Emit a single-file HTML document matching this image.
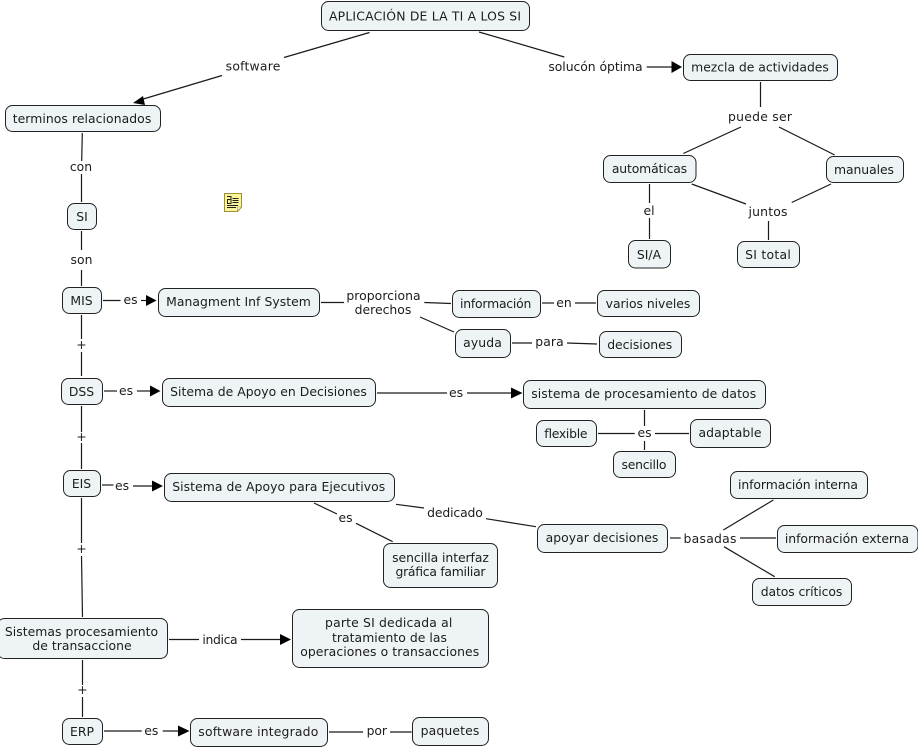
<!DOCTYPE html>
<html><head><meta charset="utf-8"><style>
html,body{margin:0;padding:0;background:#fff;width:918px;height:749px;overflow:hidden}
svg{display:block}
text{font-family:"DejaVu Sans",sans-serif;font-size:12.4px;fill:#1c1c1c;text-anchor:middle}
rect{fill:#eef4f6;stroke:#222;stroke-width:1}
line{stroke:#1a1a1a;stroke-width:1.2}
polygon.a{fill:#000}
</style></head><body>
<svg width="918" height="749" viewBox="0 0 918 749" xmlns="http://www.w3.org/2000/svg">
<!-- connectors -->
<line x1="369.5" y1="32.5" x2="284" y2="57.5"/><line x1="222" y1="75.5" x2="140" y2="100"/>
<polygon class="a" points="133,103 143,96 145,105"/>
<line x1="82.3" y1="133" x2="81.7" y2="161"/><line x1="81.5" y1="174" x2="81.5" y2="202"/>
<line x1="81.5" y1="231" x2="81.5" y2="250"/><line x1="81.5" y1="270" x2="81.5" y2="286"/>
<line x1="479" y1="32" x2="564.3" y2="57"/><line x1="646.7" y1="67" x2="672" y2="67"/>
<polygon class="a" points="682,67 671.5,61 671.5,73"/>
<line x1="760.5" y1="82" x2="760.5" y2="107"/>
<line x1="741" y1="127" x2="683.3" y2="153.5"/><line x1="779" y1="127" x2="834.7" y2="155"/>
<line x1="649.5" y1="184" x2="649.5" y2="203"/><line x1="649.5" y1="218" x2="649.5" y2="239"/>
<line x1="691.7" y1="184" x2="746" y2="204"/><line x1="831" y1="184" x2="791.7" y2="202.5"/>
<line x1="768.5" y1="221" x2="768.5" y2="240"/>
<line x1="103" y1="300.5" x2="120.500" y2="300.5"/><line x1="141" y1="300.5" x2="147" y2="300.5"/>
<polygon class="a" points="156.5,300.5 146,295 146,306"/>
<line x1="81.5" y1="315" x2="81.5" y2="339"/><line x1="81.5" y1="352" x2="81.5" y2="376"/>
<line x1="104" y1="391" x2="117" y2="391"/><line x1="137" y1="391" x2="151" y2="391"/>
<polygon class="a" points="160.5,391 150,385.5 150,396.5"/>
<line x1="81.5" y1="406" x2="81.5" y2="432"/><line x1="81.5" y1="443" x2="81.5" y2="469"/>
<line x1="102" y1="485" x2="113.500" y2="485"/><line x1="133" y1="486" x2="153" y2="486"/>
<polygon class="a" points="163,486 152,480.5 152,491.5"/>
<line x1="321" y1="302.5" x2="344" y2="302.5"/><line x1="424.3" y1="302.5" x2="451" y2="303.5"/>
<line x1="420" y1="317" x2="454" y2="332"/>
<line x1="377" y1="393" x2="447" y2="393"/><line x1="467" y1="393" x2="512" y2="393"/>
<polygon class="a" points="522.5,393 511,387.5 511,398.5"/>
<line x1="542" y1="303" x2="554" y2="303"/><line x1="575" y1="303" x2="596" y2="303"/>
<line x1="512" y1="343" x2="532" y2="343"/><line x1="567" y1="343" x2="597" y2="344"/>
<line x1="644.5" y1="410" x2="644.5" y2="426"/><line x1="644.5" y1="441" x2="644.5" y2="450"/>
<line x1="598" y1="433.5" x2="634.7" y2="433.5"/><line x1="655" y1="433.5" x2="689" y2="433.5"/>
<line x1="314" y1="503" x2="337" y2="514"/><line x1="356" y1="523.3" x2="392.7" y2="541.7"/>
<line x1="396" y1="504.3" x2="424" y2="508"/><line x1="486" y1="518.7" x2="536" y2="526.7"/>
<line x1="670" y1="538" x2="680.7" y2="538"/><line x1="723.3" y1="530" x2="773.3" y2="500"/>
<line x1="740" y1="538" x2="776" y2="538"/><line x1="724" y1="546.7" x2="774.7" y2="576.7"/>
<line x1="81.5" y1="498" x2="81.5" y2="543"/><line x1="81.5" y1="556" x2="82.5" y2="617"/>
<line x1="169" y1="639.5" x2="199" y2="639.5"/><line x1="241" y1="639.5" x2="281" y2="639.5"/>
<polygon class="a" points="291,639.5 280,634 280,645"/>
<line x1="82.5" y1="660" x2="82.5" y2="685"/><line x1="82.5" y1="697" x2="82.5" y2="717"/>
<line x1="104" y1="731" x2="141.7" y2="731"/><line x1="162.7" y1="731" x2="179" y2="731"/>
<polygon class="a" points="189.5,731 178,725.5 178,736.5"/>
<line x1="329" y1="732" x2="363" y2="732"/><line x1="390" y1="732" x2="411.7" y2="732"/>
<!-- nodes -->
<rect x="321.5" y="1.5" width="208" height="29" rx="7"/><text x="425" y="20.5" textLength="192">APLICACIÓN DE LA TI A LOS SI</text>
<rect x="5.5" y="105.5" width="155" height="26" rx="7"/><text x="82" y="123" textLength="138.6">terminos relacionados</text>
<rect x="67.500" y="203.5" width="29" height="26" rx="7"/><text x="82" y="221">SI</text>
<rect x="683.5" y="54.5" width="154" height="26" rx="7"/><text x="760" y="71.5" textLength="137.7">mezcla de actividades</text>
<rect x="603.5" y="155.5" width="92.5" height="27" rx="7"/><text x="649.5" y="173" textLength="75.3">automáticas</text>
<rect x="826.5" y="156.5" width="77" height="26" rx="7"/><text x="864" y="174" textLength="60">manuales</text>
<rect x="628.5" y="240.5" width="42" height="27.5" rx="7"/><text x="649" y="259">SI/A</text>
<rect x="737.5" y="241.5" width="62" height="26" rx="7"/><text x="768" y="259" textLength="45.700">SI total</text>
<rect x="62.5" y="287.5" width="39" height="26" rx="7"/><text x="81.500" y="305">MIS</text>
<rect x="158.5" y="288.5" width="161" height="28" rx="7"/><text x="238.5" y="306" textLength="144.7">Managment Inf System</text>
<rect x="61.5" y="378.5" width="41" height="26" rx="7"/><text x="81.500" y="396">DSS</text>
<rect x="162.5" y="378.5" width="213" height="28" rx="7"/><text x="268.5" y="396" textLength="196.7">Sitema de Apoyo en Decisiones</text>
<rect x="63.5" y="470.5" width="37" height="26" rx="7"/><text x="81.500" y="488">EIS</text>
<rect x="164.5" y="473.5" width="230" height="28" rx="7"/><text x="278.7" y="491" textLength="213">Sistema de Apoyo para Ejecutivos</text>
<rect x="383.5" y="543.5" width="114" height="44" rx="7"/><text x="440.5" y="562" textLength="96.7">sencilla interfaz</text><text x="440.5" y="576" textLength="90">gráfica familiar</text>
<rect x="-2.5" y="618.5" width="170" height="40" rx="7"/><text x="81.500" y="636" textLength="153.3">Sistemas procesamiento</text><text x="82" y="650" textLength="99.3">de transaccione</text>
<rect x="292.5" y="609.5" width="196" height="58" rx="7"/><text x="388.7" y="627" textLength="127.3">parte SI dedicada al</text><text x="389.5" y="642" textLength="115">tratamiento de las</text><text x="389.7" y="656" textLength="179">operaciones o transacciones</text>
<rect x="62.5" y="718.5" width="40" height="26" rx="7"/><text x="82" y="736">ERP</text>
<rect x="190.5" y="718.5" width="137" height="28" rx="7"/><text x="258.3" y="736" textLength="120">software integrado</text>
<rect x="412.5" y="717.5" width="76" height="28" rx="7"/><text x="450" y="735" textLength="58.7">paquetes</text>
<rect x="452.5" y="290.5" width="88" height="27" rx="7"/><text x="495.700" y="308" textLength="71.3">información</text>
<rect x="597.5" y="290.5" width="102" height="26" rx="7"/><text x="648" y="308" textLength="84.7">varios niveles</text>
<rect x="455.5" y="329.5" width="55" height="28" rx="7"/><text x="482.5" y="347" textLength="38.7">ayuda</text>
<rect x="599.5" y="331.5" width="82" height="26" rx="7"/><text x="639.7" y="349" textLength="65">decisiones</text>
<rect x="523.5" y="380.5" width="242" height="28" rx="7"/><text x="643.7" y="398" textLength="225">sistema de procesamiento de datos</text>
<rect x="536.5" y="420.5" width="60" height="26" rx="7"/><text x="565.7" y="438" textLength="43.3">flexible</text>
<rect x="690.5" y="419.5" width="80" height="28" rx="7"/><text x="730" y="437" textLength="63">adaptable</text>
<rect x="613.5" y="451.5" width="62" height="26" rx="7"/><text x="644" y="469" textLength="45">sencillo</text>
<rect x="730.5" y="471.5" width="137" height="27" rx="7"/><text x="798" y="489" textLength="120">información interna</text>
<rect x="777.5" y="525.5" width="140.500" height="27" rx="7"/><text x="847" y="543" textLength="124.3">información externa</text>
<rect x="752.5" y="578.5" width="99" height="27" rx="7"/><text x="801.5" y="596" textLength="81.6">datos críticos</text>
<rect x="537.5" y="524.5" width="130" height="28" rx="7"/><text x="602" y="542" textLength="112.7">apoyar decisiones</text>
<!-- link labels -->
<text x="253" y="70.5" textLength="54.7">software</text>
<text x="81" y="171">con</text>
<text x="81.5" y="264">son</text>
<text x="595.5" y="71" textLength="94.3">solucón óptima</text>
<text x="760" y="121" textLength="64">puede ser</text>
<text x="649" y="215">el</text>
<text x="768" y="216" textLength="39">juntos</text>
<text x="130.5" y="304">es</text>
<text x="81.5" y="349">+</text>
<text x="126" y="395">es</text>
<text x="81.5" y="441">+</text>
<text x="122" y="490">es</text>
<text x="383.5" y="300" textLength="74.3">proporciona</text><text x="383" y="314" textLength="56.7">derechos</text>
<text x="456" y="397">es</text>
<text x="564" y="307">en</text>
<text x="549.5" y="346" textLength="28.4">para</text>
<text x="644.5" y="437">es</text>
<text x="345.5" y="522">es</text>
<text x="455" y="517" textLength="55.7">dedicado</text>
<text x="710" y="543" textLength="53">basadas</text>
<text x="81.5" y="553">+</text>
<text x="220" y="644" textLength="35.3">indica</text>
<text x="82.5" y="694">+</text>
<text x="151.3" y="735">es</text>
<text x="376.8" y="735" textLength="20.3">por</text>
<!-- note icon -->
<g>
<polygon points="224.5,193.5 241.5,193.5 241.5,207 237.5,211.5 224.5,211.5" style="fill:#fbf39a;stroke:#9a9038;stroke-width:1"/>
<polygon points="237.5,211 241.5,207 237.5,207" style="fill:#fff;stroke:#9a9038;stroke-width:.6"/>
<path d="M227 196.500h4.500M231 196.500v7M227 199.500h4M227.500 199.500v4M227 203.500h4.500M232.500 198.500h6M232.500 200.500h6M232.500 202.500h6M227 205.500h11M227 207.500h9" style="fill:none;stroke:#222;stroke-width:1"/>
</g>
</svg>
</body></html>
